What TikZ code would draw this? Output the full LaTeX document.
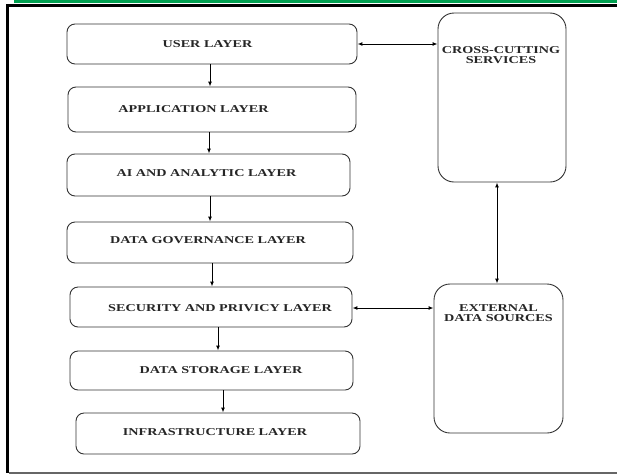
\documentclass[tikz,border=0pt]{standalone}
\usepackage{fontspec}
\newfontfamily\lbl[FakeStretch=1.35]{Liberation Serif}
\usetikzlibrary{arrows.meta}
\definecolor{topgreen}{RGB}{0,160,80}
\begin{document}
\begin{tikzpicture}[x=1pt,y=-1pt,
  layer/.style={draw=black!80, line width=0.9pt, rounded corners=8pt, inner sep=0pt},
  tallbox/.style={draw=black!80, line width=0.9pt, rounded corners=16pt, inner sep=0pt},
  txt/.style={font=\lbl\fontsize{10.5}{10}\selectfont\bfseries, align=center, text=black!85},
  arr/.style={line width=1pt, -{Latex[length=5pt,width=4pt]}},
  biarr/.style={line width=1pt, {Latex[length=5pt,width=4pt]}-{Latex[length=5pt,width=4pt]}}]
\useasboundingbox (0,0) rectangle (617,474);
\fill[white] (0,0) rectangle (617,474);
% frame
\fill[topgreen] (14,0) rectangle (617,3);
\fill[black] (6,3.5) rectangle (617,6.5);
\fill[black] (6,3.5) rectangle (9,473);
\fill[black!60] (9,471.5) rectangle (617,473.5);
% layer boxes
\node[layer, minimum width=290pt, minimum height=40pt,
  label={[txt, xshift=-4.5pt]center:USER LAYER}] (user) at (212,44) {};
\node[layer, minimum width=288pt, minimum height=45pt,
  label={[txt, xshift=-18.5pt]center:APPLICATION LAYER}] (app) at (212,109.5) {};
\node[layer, minimum width=283pt, minimum height=42pt,
  label={[txt, xshift=-2pt, yshift=2pt]center:AI AND ANALYTIC LAYER}] (ai) at (208.5,175) {};
\node[layer, minimum width=286pt, minimum height=41pt,
  label={[txt, xshift=-2pt, yshift=2.5pt]center:DATA GOVERNANCE LAYER}] (gov) at (210,242.5) {};
\node[layer, minimum width=282pt, minimum height=40pt,
  label={[txt, xshift=9pt, yshift=-1pt]center:SECURITY AND PRIVICY LAYER}] (sec) at (211,307) {};
\node[layer, minimum width=283pt, minimum height=39pt,
  label={[txt, xshift=9.5pt]center:DATA STORAGE LAYER}] (sto) at (211.5,370.5) {};
\node[layer, minimum width=284pt, minimum height=41pt,
  label={[txt, xshift=-3pt, yshift=1.5pt]center:INFRASTRUCTURE LAYER}] (inf) at (218,433.5) {};
% tall boxes
\node[tallbox, minimum width=128pt, minimum height=169pt,
  label={[txt, anchor=north, yshift=-30pt, xshift=-1pt]north:CROSS-CUTTING\\SERVICES}] (cc) at (502,97.5) {};
\node[tallbox, minimum width=129pt, minimum height=149pt,
  label={[txt, anchor=north, yshift=-17pt]north:EXTERNAL\\DATA SOURCES}] (ext) at (498.5,358.5) {};
% vertical flow
\draw[arr] (user.south -| 210,0) -- (app.north -| 210,0);
\draw[arr] (app.south -| 209,0) -- (ai.north -| 209,0);
\draw[arr] (ai.south -| 210,0) -- (gov.north -| 210,0);
\draw[arr] (gov.south -| 212,0) -- (sec.north -| 212,0);
\draw[arr] (sec.south -| 218,0) -- (sto.north -| 218,0);
\draw[arr] (sto.south -| 223,0) -- (inf.north -| 223,0);
% bidirectional
\draw[biarr] (user.east) -- (user.east -| cc.west);
\draw[biarr] (cc.south -| 497,0) -- (ext.north -| 497,0);
\draw[biarr] (sec.east |- 0,308) -- (ext.west |- 0,308);
\end{tikzpicture}
\end{document}
